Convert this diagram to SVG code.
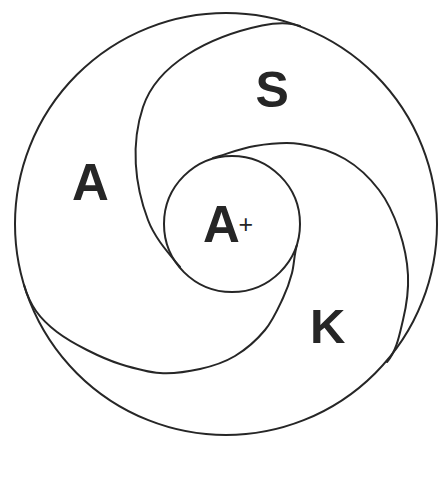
<svg xmlns="http://www.w3.org/2000/svg" width="440" height="489" viewBox="0 0 440 489">
  <style>
    .ln { fill: none; stroke: #262626; stroke-width: 2; stroke-linecap: round; stroke-linejoin: round; }
    .lbl { font-family: "Liberation Sans", Arial, sans-serif; font-weight: bold; fill: #262626; }
  </style>
  <rect width="440" height="489" fill="#ffffff"/>
  <g id="outer-circle">
    <circle class="ln" cx="226" cy="224" r="211"/>
  </g>
  <g id="inner-circle">
    <circle class="ln" cx="232" cy="224" r="68"/>
  </g>
  <g id="spiral-arcs">
    <path id="arc-s" class="ln" d="M300,26 C287.8,21.4 274.7,22.8 262,25.5 C208.2,36.8 157.2,64.3 143,107 C130.8,143.7 134.3,183.8 148,220 C154.7,237.8 167.9,252.4 180,267"/>
    <path id="arc-a" class="ln" d="M24,285 C26.7,294.1 30.5,303.2 36,311 C41.5,318.8 48.5,325.5 57,332 C65.5,338.5 76.5,344.7 87,350 C97.5,355.3 107.8,360.2 120,364 C132.2,367.8 146.7,372.2 160,373 C173.3,373.8 187.5,371.8 200,369 C212.5,366.2 224.2,362.5 235,356 C245.8,349.5 257,339.7 265,330 C273,320.3 278.5,307.5 283,298 C287.5,288.5 289.7,281.8 292,273 C294.3,264.2 294.1,254 297,245"/>
    <path id="arc-k" class="ln" d="M387,362 C396.8,350.6 399.5,334.5 403,320 C406.5,305.5 408.7,290 408,275 C407.3,260 403.8,244.2 399,230 C394.2,215.8 388,201.8 379,190 C370,178.2 358.2,166.7 345,159 C331.8,151.3 315,146.2 300,144 C285,141.8 269.5,143.7 255,146 C240.5,148.3 227,154 213,158"/>
  </g>
  <g id="label-S">
    <text class="lbl" x="255.5" y="107" font-size="50">S</text>
  </g>
  <g id="label-A">
    <text class="lbl" x="72" y="200" font-size="51">A</text>
  </g>
  <g id="label-K">
    <text class="lbl" x="310" y="343" font-size="49">K</text>
  </g>
  <g id="label-Aplus">
    <text class="lbl" x="203" y="242" font-size="51">A</text>
    <text x="238.5" y="232.5" font-size="25" font-family="Liberation Sans, Arial, sans-serif" fill="#262626">+</text>
  </g>
</svg>
